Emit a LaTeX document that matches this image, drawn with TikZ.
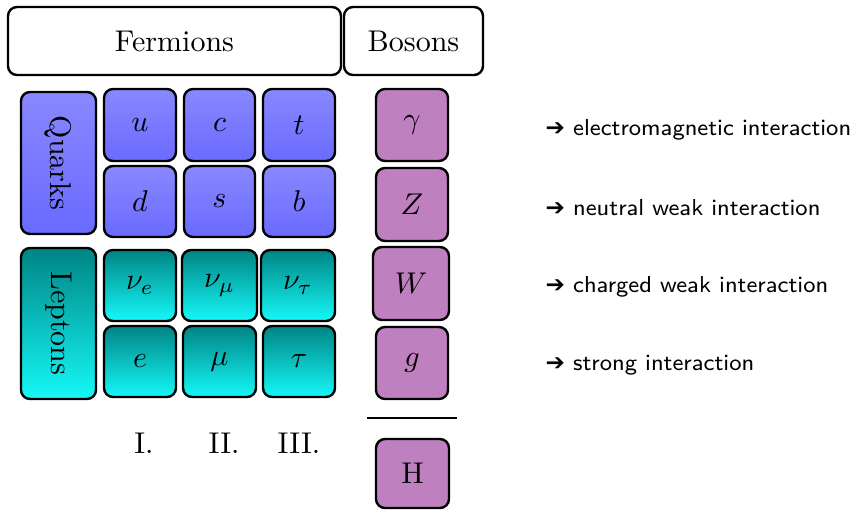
\documentclass[tikz,border=0pt]{standalone}
\usepackage{graphicx}
\usepackage{fontspec}
\newfontfamily\dejavu{DejaVu Sans}
\definecolor{quarktop}{RGB}{136,136,255}
\definecolor{quarkbot}{RGB}{106,106,255}
\definecolor{leptop}{RGB}{0,132,132}
\definecolor{lepbot}{RGB}{22,248,248}
\definecolor{bosonc}{RGB}{191,128,191}
\tikzset{
  cell/.style={draw=black, line width=0.8pt, rounded corners=3pt, minimum width=24pt, minimum height=24pt, inner sep=0pt},
  quark/.style={cell, top color=quarktop, bottom color=quarkbot},
  lepton/.style={cell, top color=leptop, bottom color=lepbot},
  boson/.style={cell, fill=bosonc},
  hdr/.style={draw=black, line width=0.8pt, rounded corners=3pt, minimum height=22.67pt, inner sep=0pt},
  gen/.style={inner sep=0pt},
  note/.style={anchor=base west, inner sep=0pt, font=\fontsize{7.7}{9.5}\selectfont\sffamily},
}
\begin{document}
\begin{tikzpicture}[x=0.33333pt, y=-0.33333pt]
\useasboundingbox (0,0) rectangle (856,509);
\fill[white] (0,0) rectangle (856,509);
% headers
\node[hdr, minimum width=111pt] (ferm) at (174.5,41) {Fermions};
\node[hdr, minimum width=46.33pt] (bos) at (413.5,41) {Bosons};
% quarks
\node[quark, minimum width=25pt, minimum height=47.33pt] (quarks) at (58.5,163) {\rotatebox{-90}{Quarks}};
\node[quark] (u) at (140,125) {$u$};
\node[quark, minimum width=23.67pt] (c) at (219.5,125) {$c$};
\node[quark] (t) at (299,125) {$t$};
\node[quark, minimum height=23.67pt] (d) at (140,201.5) {$d$};
\node[quark, minimum width=23.67pt, minimum height=23.67pt] (s) at (219.5,201.5) {$s$};
\node[quark, minimum height=23.67pt] (b) at (299,201.5) {$b$};
% leptons
\node[lepton, minimum width=25pt, minimum height=50.33pt] (leptons) at (58.5,323.5) {\rotatebox{-90}{Leptons}};
\node[lepton, minimum height=23.67pt] (nue) at (140,285.5) {$\nu_e$};
\node[lepton, minimum width=25pt, minimum height=23.67pt] (numu) at (219.5,285.5) {$\nu_\mu$};
\node[lepton, minimum width=24.67pt, minimum height=23.67pt] (nutau) at (298,285.5) {$\nu_\tau$};
\node[lepton, minimum height=23.67pt] (e) at (140,361.5) {$e$};
\node[lepton, minimum width=24.33pt, minimum height=23.67pt] (mu) at (219.5,361.5) {$\mu$};
\node[lepton, minimum height=23.67pt] (tau) at (299,361.5) {$\tau$};
% bosons
\node[boson] (gamma) at (412,125) {$\gamma$};
\node[boson, minimum height=24.33pt] (Z) at (412,204.5) {$Z$};
\node[boson, minimum width=25.33pt, minimum height=24.33pt] (W) at (411,283.5) {$W$};
\node[boson] (g) at (412,363) {$g$};
\draw[line width=0.5pt] (367,418) -- (457,418);
\node[boson, minimum width=24.33pt, minimum height=23pt] (H) at (412.5,473.5) {H};
% generations
\node[gen] (g1) at (144,443.5) {I.};
\node[gen] (g2) at (224,443.5) {II.};
\node[gen] (g3) at (299,443.5) {III.};
% interactions
\node[note] (n1) at (545,135) {{\dejavu ➔}\ electromagnetic interaction};
\node[note] (n2) at (545,215) {{\dejavu ➔}\ neutral weak interaction};
\node[note] (n3) at (545,292) {{\dejavu ➔}\ charged weak interaction};
\node[note] (n4) at (545,370) {{\dejavu ➔}\ strong interaction};
\end{tikzpicture}
\end{document}
